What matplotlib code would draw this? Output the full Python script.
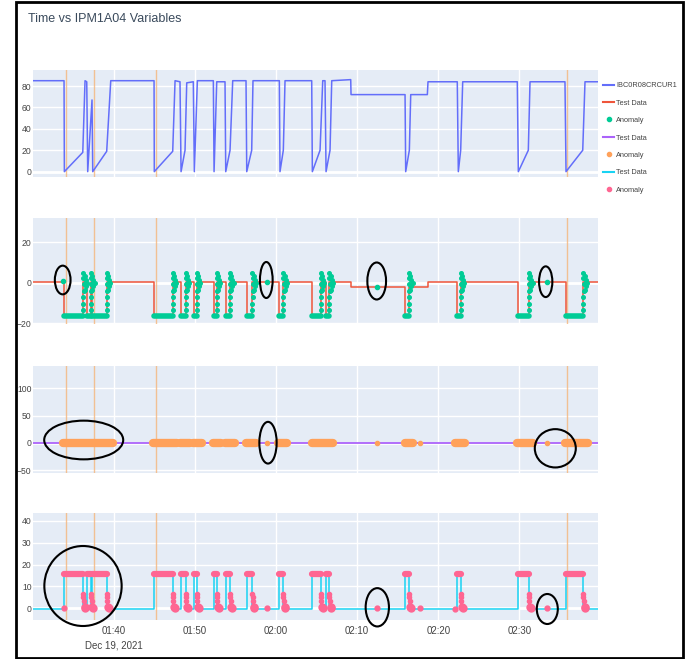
import matplotlib.pyplot as plt
import numpy as np
from matplotlib.lines import Line2D
from matplotlib.patches import Ellipse, Rectangle

plt.rcParams['font.family'] = ['Liberation Sans', 'DejaVu Sans']

# time is in minutes after midnight (Dec 19, 2021)
t_first, t_last = 90.07, 159.74

# panel 1 - IBC0R08CRCUR1, breakpoints
cur_t = [90.07, 93.86, 93.90, 96.17, 96.45, 96.66, 96.78, 97.31, 97.40, 99.12,
         99.62, 104.96, 104.99, 107.26, 107.55, 108.16, 108.29, 108.78, 108.99,
         109.80, 109.93, 110.30, 112.27, 112.36, 112.69, 113.71, 113.80, 114.33,
         114.66, 116.30, 116.39, 117.00, 117.16, 120.41, 120.49, 120.90, 121.11,
         124.40, 124.48, 125.43, 125.76, 126.04, 126.17, 126.66, 126.87, 129.21,
         129.25, 135.91, 135.99, 136.44, 136.61, 138.66, 138.74, 142.35, 142.48,
         142.77, 143.02, 149.75, 149.88, 151.11, 151.32, 155.63, 155.76, 157.82,
         158.10, 159.74]
cur_v = [85, 85, 0, 18, 85, 84, 0, 67, 0, 19,
         85, 85, 0, 19, 85, 84, 0, 20, 83,
         84, 0, 85, 85, 0, 84, 84, 0, 20,
         85, 85, 0, 20, 85, 85, 0, 20, 85,
         85, 0, 20, 85, 85, 0, 20, 85, 86,
         72, 72, 0, 20, 72, 72, 84, 84, 0,
         20, 84, 84, 0, 20, 84, 84, 0, 20,
         84, 84]

# sensor off periods (panels 2 and 4 jump while off)
off_start = [93.88, 96.73, 97.35, 104.96, 108.25, 109.93, 112.36, 113.80, 116.39,
             120.41, 124.40, 126.17, 135.91, 142.35, 149.80, 155.72]
off_end = [96.24, 97.19, 99.12, 107.26, 108.87, 110.22, 112.69, 114.33, 117.08,
           120.90, 125.51, 126.57, 136.40, 142.77, 151.19, 157.89]

# panel 2 - red test data
dev_lvl_t = [90.07, 129.23, 138.70]
dev_lvl_v = [0.5, -2.3, 0.3]
dev_low = -16.2
rise_v = [-13.5, -10.5, -7, -4, -0.5, 2.5, 5]
rise_dt = [0.0, 0.01, 0.02, 0.03, 0.03, 0.02, 0.0]
settle_v = [3.5, 1.5, 0, -1.5, -3.5]
settle_dt = [0.15, 0.3, 0.45, 0.3, 0.15]
green_single_t = [93.77, 118.85, 132.42, 153.38]
green_single_v = [0.8, 0.5, -2.0, 0.2]

# panel 3 - purple test data, orange anomaly runs
pur_t = [90.07, 159.74]
pur_v = [0.3, 0.3]
run_start = [93.77, 104.87, 108.16, 109.80, 112.27, 113.71, 116.30, 120.28,
             124.40, 135.91, 142.07, 149.68, 155.63]
run_end = [99.94, 107.76, 109.40, 110.84, 113.18, 114.94, 117.53, 121.32,
           127.07, 136.93, 143.30, 151.73, 158.51]
orange_single_t = [118.85, 132.42, 137.76, 153.38]

# panel 4 - cyan test data
cy_lvl_t = [90.07]
cy_lvl_v = [-0.3]
cy_high = 15.7
drop_v = [6.5, 5, 3.5, 0.8, 0]
drop_dt = [-0.02, 0.02, 0.06, 0.15, 0.25]
pink_single_t = [93.80, 118.85, 132.42, 137.76, 142.07, 153.38]
pink_single_v = [0.2, 0, 0, 0, -0.3, 0]

# orange vertical markers
cut_t = [94.07, 97.56, 105.17, 155.88]

tick_t = [100, 110, 120, 130, 140, 150]
tick_lab = ['01:40\nDec 19, 2021', '01:50', '02:00', '02:10', '02:20', '02:30']
ylims = [(-5, 95), (-20.4, 32), (-55, 141), (-5.3, 43.5)]
yticks = [[0, 20, 40, 60, 80], [-20, 0, 20], [-50, 0, 50, 100], [0, 10, 20, 30, 40]]

blue, red, green = '#636EFA', '#EF553B', '#00CC96'
purple, orange, cyan, pink = '#AB63FA', '#FFA15A', '#19D3F3', '#FF6692'


def step_trace(lvl_t, lvl_v, level):
    events = sorted([(t, 0, v) for t, v in zip(lvl_t[1:], lvl_v[1:])]
                    + [(t, 1, None) for t in off_start]
                    + [(t, 2, None) for t in off_end])
    base = lvl_v[0]
    xs, ys = [lvl_t[0]], [base]
    for t, kind, v in events:
        if kind == 0:
            xs += [t, t]
            ys += [base, v]
            base = v
        elif kind == 1:
            xs += [t, t]
            ys += [base, level]
        else:
            xs += [t, t]
            ys += [level, base]
    xs.append(t_last)
    ys.append(base)
    return xs, ys


fig = plt.figure(figsize=(6.99, 6.59), dpi=100)
W, H = 699, 659
tops = [70, 218, 366, 513]
bottoms = [177, 324, 473, 620]
axes = []
for top, bot in zip(tops, bottoms):
    ax = fig.add_axes([33.3 / W, 1 - bot / H, (598.3 - 33.3) / W, (bot - top) / H])
    axes.append(ax)

for i, ax in enumerate(axes):
    ax.set_facecolor('#E5ECF6')
    for s in ax.spines.values():
        s.set_visible(False)
    ax.set_xlim(t_first, t_last)
    ax.set_ylim(*ylims[i])
    ax.set_yticks(yticks[i])
    ax.set_xticks(tick_t)
    ax.grid(True, color='white', lw=1)
    ax.set_axisbelow(True)
    ax.axhline(0, color='white', lw=2, zorder=1)
    ax.tick_params(length=0, colors='#444444')
    ax.tick_params(axis='y', labelsize=6.2, pad=1.2)
    if i < 3:
        ax.set_xticklabels([])
    else:
        ax.set_xticklabels(tick_lab, linespacing=1.6)
        ax.tick_params(axis='x', labelsize=7, pad=4)
    for t in cut_t:
        ax.axvline(t, color='#F5B57A', lw=1, alpha=0.8, zorder=1.5)

# panel 1
ax = axes[0]
ax.plot(cur_t, cur_v, color=blue, lw=1.1, zorder=2)

# panel 2
ax = axes[1]
xs, ys = step_trace(dev_lvl_t, dev_lvl_v, dev_low)
ax.plot(xs, ys, color=red, lw=1.1, zorder=2)
for s, e in zip(off_start, off_end):
    ax.plot([s, e], [dev_low, dev_low], color=green, lw=4, solid_capstyle='round', zorder=3)
    ax.plot([e + d for d in rise_dt], rise_v, 'o', color=green, ms=2.6, zorder=3)
    ax.plot([e + d for d in settle_dt], settle_v, 'o', color=green, ms=2.6, zorder=3)
ax.plot(green_single_t, green_single_v, 'o', color=green, ms=3, zorder=3)

# panel 3
ax = axes[2]
ax.plot(pur_t, pur_v, color=purple, lw=1.3, zorder=2)
for s, e in zip(run_start, run_end):
    ax.plot([s, e], [0, 0], color=orange, lw=6, solid_capstyle='round', zorder=3)
ax.plot(orange_single_t, [0] * len(orange_single_t), 'o', color=orange, ms=3, zorder=3)

# panel 4
ax = axes[3]
xs, ys = step_trace(cy_lvl_t, cy_lvl_v, cy_high)
ax.plot(xs, ys, color=cyan, lw=1.1, zorder=2)
for s, e in zip(off_start, off_end):
    ax.plot([s, e], [cy_high, cy_high], color=pink, lw=4.5, solid_capstyle='round', zorder=3)
    ax.plot([e + d for d in drop_dt[:3]], drop_v[:3], 'o', color=pink, ms=3, zorder=3)
    ax.plot([e + d for d in drop_dt[3:]], drop_v[3:], 'o', color=pink, ms=5, zorder=3)
ax.plot(pink_single_t, pink_single_v, 'o', color=pink, ms=3.5, zorder=3)

# hand drawn circles on the screenshot (pixel positions)
circ_x = [62.7, 266.3, 376.7, 545.7, 83.7, 268, 555.3, 83, 377.3, 547.3]
circ_y = [280, 280, 281, 281.7, 440, 442.7, 448.3, 586, 607.3, 609]
circ_w = [15.7, 12.7, 18.7, 13.3, 79, 17.3, 41, 77.3, 23.3, 21]
circ_h = [28.7, 36, 37, 30.7, 38.7, 41.7, 38.3, 80, 38.3, 30]
for x, y, w, h in zip(circ_x, circ_y, circ_w, circ_h):
    fig.patches.append(Ellipse((x / W, 1 - y / H), w / W, h / H, fill=False,
                               ec='black', lw=1.5, transform=fig.transFigure, zorder=10))

# legend
handles = [Line2D([], [], color=blue, lw=1.5),
           Line2D([], [], color=red, lw=1.5),
           Line2D([], [], color=green, marker='o', ls='', ms=3),
           Line2D([], [], color=purple, lw=1.5),
           Line2D([], [], color=orange, marker='o', ls='', ms=3),
           Line2D([], [], color=cyan, lw=1.5),
           Line2D([], [], color=pink, marker='o', ls='', ms=3)]
labels = ['IBC0R08CRCUR1', 'Test Data', 'Anomaly', 'Test Data', 'Anomaly',
          'Test Data', 'Anomaly']
leg = fig.legend(handles, labels, loc='upper left', bbox_to_anchor=(603 / W, 1 - 82 / H),
                 frameon=False, fontsize=5.3, handlelength=1.5, handletextpad=0.3,
                 labelspacing=1.4, borderpad=0, borderaxespad=0, numpoints=1)
for t in leg.get_texts():
    t.set_color('#444444')

fig.text(28 / W, 1 - 19 / H, 'Time vs IPM1A04 Variables', fontsize=9,
         color='#3a4a5c', va='center', ha='left')

# black frame around the screenshot
fig.patches.append(Rectangle((15.5 / W, 1 / H), 667 / W, 656.5 / H, fill=False,
                             ec='black', lw=2, transform=fig.transFigure, zorder=11))

fig.savefig('out.png', dpi=100)
